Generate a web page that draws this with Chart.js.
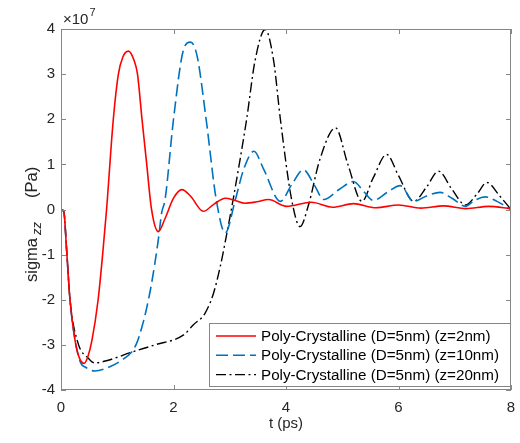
<!DOCTYPE html>
<html>
<head>
<meta charset="utf-8">
<script src="https://cdn.jsdelivr.net/npm/chart.js@4/dist/chart.umd.min.js"></script>
<style>
  html, body { margin: 0; padding: 0; background: #fff; }
  canvas { display: block; }
</style>
</head>
<body>
<canvas id="stress" width="520" height="443"></canvas>
<script>
// time (ps) and sigma_zz (x 1e7 Pa) for each depth
var tRed = [0, 0.05, 0.1, 0.16, 0.25, 0.33, 0.41, 0.48, 0.55, 0.66, 0.74, 0.81, 0.93, 1.02, 1.1, 1.2, 1.3, 1.36, 1.44, 1.52, 1.61, 1.73, 1.85, 2.0, 2.15, 2.3, 2.53, 2.72, 2.92, 3.1, 3.27, 3.48, 3.69, 4.01, 4.45, 4.83, 5.2, 5.6, 6.0, 6.4, 6.8, 7.2, 7.6, 8.0];
var sRed = [0, -0.05, -0.9, -2.0, -2.9, -3.3, -3.41, -3.25, -2.9, -2.0, -1.0, 0, 2.0, 3.0, 3.38, 3.51, 3.3, 3.0, 2.0, 1.05, 0, -0.49, -0.2, 0.25, 0.44, 0.3, -0.04, 0.12, 0.25, 0.2, 0.14, 0.17, 0.22, 0.07, 0.16, 0.05, 0.13, 0.04, 0.1, 0.03, 0.08, 0.02, 0.07, 0.02];

var tBlue = [0, 0.05, 0.1, 0.16, 0.25, 0.35, 0.43, 0.6, 0.8, 1.08, 1.26, 1.35, 1.44, 1.52, 1.61, 1.73, 1.79, 1.85, 2.0, 2.18, 2.3, 2.42, 2.58, 2.76, 2.92, 3.1, 3.25, 3.43, 3.6, 3.9, 4.1, 4.31, 4.5, 4.67, 4.95, 5.2, 5.38, 5.55, 5.8, 6.03, 6.27, 6.5, 6.74, 6.95, 7.19, 7.35, 7.54, 7.75, 8.0];
var sBlue = [0, -0.05, -0.9, -2.0, -2.9, -3.4, -3.49, -3.58, -3.52, -3.34, -3.15, -2.95, -2.6, -2.2, -1.64, -0.67, -0.07, 0.22, 2.0, 3.55, 3.71, 3.4, 2.0, 0.22, -0.52, 0.22, 0.9, 1.29, 0.9, 0.18, 0.55, 0.88, 0.55, 0.22, 0.45, 0.62, 0.4, 0.2, 0.38, 0.53, 0.18, 0.3, 0.38, 0.25, 0.07, 0.2, 0.28, 0.18, 0];

var tBlack = [0, 0.05, 0.1, 0.16, 0.3, 0.49, 0.6, 0.84, 1.26, 1.67, 2.18, 2.35, 2.56, 2.71, 2.83, 2.95, 3.06, 3.3, 3.45, 3.63, 3.78, 3.9, 4.1, 4.25, 4.4, 4.6, 4.88, 5.1, 5.35, 5.55, 5.79, 6.0, 6.27, 6.5, 6.71, 6.95, 7.19, 7.4, 7.57, 7.8, 8.0];
var sBlack = [0, -0.05, -0.9, -2.0, -2.95, -3.3, -3.4, -3.34, -3.16, -3.0, -2.78, -2.56, -2.3, -1.86, -1.27, -0.52, 0.22, 2.0, 3.3, 3.99, 3.3, 2.0, 0.22, -0.38, 0.1, 1.1, 1.81, 1.0, 0.18, 0.7, 1.22, 0.75, 0.18, 0.5, 0.85, 0.45, 0.1, 0.35, 0.6, 0.3, 0];

var seriesLabels = [
	'Poly-Crystalline (D=5nm) (z=2nm)',
	'Poly-Crystalline (D=5nm) (z=10nm)',
	'Poly-Crystalline (D=5nm) (z=20nm)'
];
var xTicks = [0, 2, 4, 6, 8];
var yTicks = [-4, -3, -2, -1, 0, 1, 2, 3, 4];

var FONT = '"Liberation Sans", Arial, Helvetica, sans-serif';
var AXIS_GREY = '#868686';
var TEXT = '#262626';

function toPoints(ts, ss) {
	return ts.map(function(t, i) { return { x: t, y: ss[i] }; });
}

// MATLAB-like axes: boxed, ticks pointing inward, exponent label, legend inside
var matlabAxes = {
	id: 'matlabAxes',
	afterDatasetsDraw: function(chart) {
		var ctx = chart.ctx;
		var a = chart.chartArea;
		var xs = chart.scales.x, ys = chart.scales.y;
		var tl = 5;

		ctx.save();
		ctx.strokeStyle = AXIS_GREY;
		ctx.lineWidth = 1;
		ctx.strokeRect(a.left + 0.5, a.top + 0.5, a.right - a.left - 1, a.bottom - a.top - 1);

		ctx.beginPath();
		xTicks.forEach(function(v) {
			var px = Math.round(xs.getPixelForValue(v)) + 0.5;
			ctx.moveTo(px, a.bottom); ctx.lineTo(px, a.bottom - tl);
			ctx.moveTo(px, a.top); ctx.lineTo(px, a.top + tl);
		});
		yTicks.forEach(function(v) {
			var py = Math.round(ys.getPixelForValue(v)) + 0.5;
			ctx.moveTo(a.left, py); ctx.lineTo(a.left + tl, py);
			ctx.moveTo(a.right, py); ctx.lineTo(a.right - tl, py);
		});
		ctx.stroke();

		// x10^7 exponent
		ctx.fillStyle = TEXT;
		ctx.textBaseline = 'alphabetic';
		ctx.textAlign = 'left';
		ctx.font = '15px ' + FONT;
		ctx.fillText('\u00d710', a.left + 2, a.top - 5);
		var w = ctx.measureText('\u00d710').width;
		ctx.font = '11px ' + FONT;
		ctx.fillText('7', a.left + 3 + w, a.top - 13);

		// y title with subscript
		ctx.save();
		ctx.translate(37, 224);
		ctx.rotate(-Math.PI / 2);
		ctx.font = '16.5px ' + FONT;
		ctx.fillText('sigma', -58, 0);
		ctx.font = 'italic 13px ' + FONT;
		ctx.fillText('zz', -11, 4);
		ctx.font = '16.5px ' + FONT;
		ctx.fillText('(Pa)', 26, 0);
		ctx.restore();

		// legend
		var lx = 209, ly = 323, lw = a.right - 1 - lx, lh = 63;
		ctx.fillStyle = '#fff';
		ctx.fillRect(lx, ly, lw, lh);
		ctx.strokeStyle = AXIS_GREY;
		ctx.strokeRect(lx + 0.5, ly + 0.5, lw, lh);
		ctx.font = '15.2px ' + FONT;
		ctx.textBaseline = 'middle';
		chart.data.datasets.forEach(function(ds, i) {
			var y = ly + 13 + i * 19.3;
			ctx.save();
			ctx.strokeStyle = ds.borderColor;
			ctx.lineWidth = ds.borderWidth;
			ctx.setLineDash(ds.borderDash || []);
			ctx.beginPath();
			ctx.moveTo(216, y);
			ctx.lineTo(256, y);
			ctx.stroke();
			ctx.restore();
			ctx.fillStyle = '#000';
			ctx.fillText(ds.label, 261, y + 1);
		});
		ctx.restore();
	}
};

var chart = new Chart(document.getElementById('stress').getContext('2d'), {
	type: 'line',
	data: {
		datasets: [{
			label: seriesLabels[0],
			data: toPoints(tRed, sRed),
			borderColor: '#ff0000',
			borderWidth: 1.6
		}, {
			label: seriesLabels[1],
			data: toPoints(tBlue, sBlue),
			borderColor: '#0072bd',
			borderWidth: 1.6,
			borderDash: [12, 5]
		}, {
			label: seriesLabels[2],
			data: toPoints(tBlack, sBlack),
			borderColor: '#000000',
			borderWidth: 1.4,
			borderDash: [10, 3.5, 2, 3.5]
		}]
	},
	options: {
		responsive: false,
		animation: false,
		devicePixelRatio: 1,
		layout: { padding: { top: 29, right: 9, left: 0, bottom: 0 } },
		elements: {
			point: { radius: 0 },
			line: { cubicInterpolationMode: 'monotone', fill: false }
		},
		plugins: {
			legend: { display: false },
			tooltip: { enabled: false }
		},
		scales: {
			x: {
				type: 'linear',
				min: 0,
				max: 8,
				afterBuildTicks: function(s) { s.ticks = xTicks.map(function(v) { return { value: v }; }); },
				afterFit: function(s) { s.height = 53; s.paddingLeft = 0; s.paddingRight = 0; },
				grid: { display: false, drawTicks: false },
				border: { display: false },
				ticks: { color: TEXT, font: { family: FONT, size: 15 }, padding: 9, maxRotation: 0 },
				title: { display: true, text: 't (ps)', color: TEXT, font: { family: FONT, size: 15 }, padding: { top: 0, bottom: 10 } }
			},
			y: {
				type: 'linear',
				min: -4,
				max: 4,
				afterBuildTicks: function(s) { s.ticks = yTicks.map(function(v) { return { value: v }; }); },
				afterFit: function(s) { s.width = 61; s.paddingTop = 0; s.paddingBottom = 0; },
				grid: { display: false, drawTicks: false },
				border: { display: false },
				ticks: { color: TEXT, font: { family: FONT, size: 15 }, padding: 6 }
			}
		}
	},
	plugins: [matlabAxes]
});
</script>
</body>
</html>
